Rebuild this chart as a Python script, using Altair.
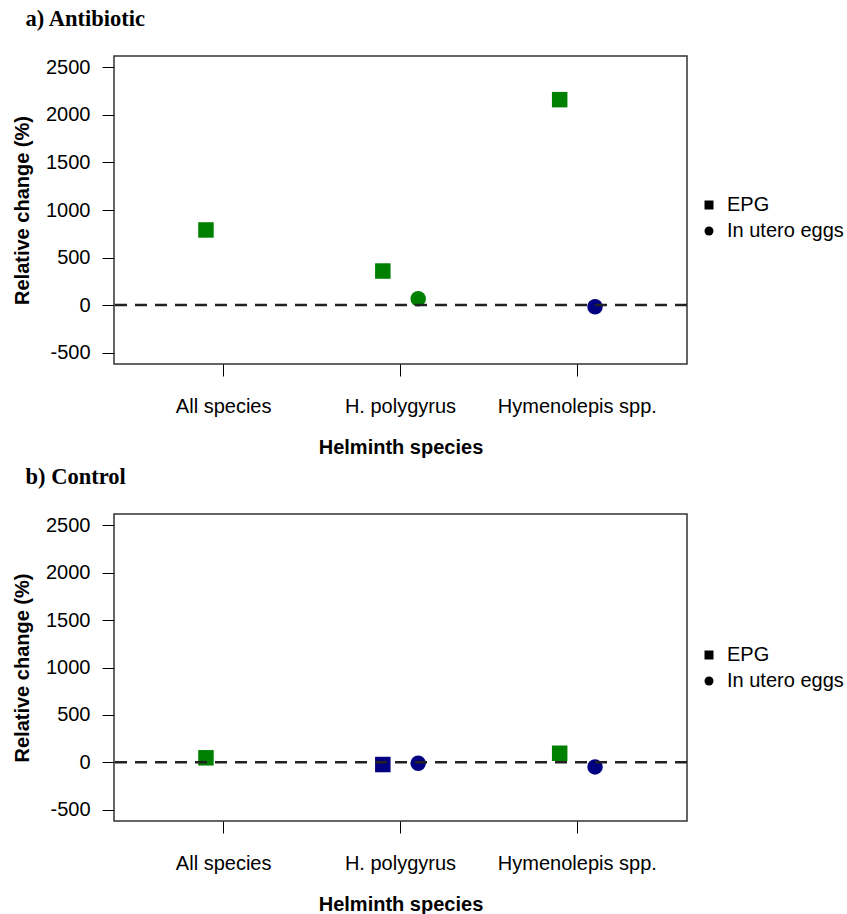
import altair as alt
import pandas as pd

species = ["All species", "H. polygyrus", "Hymenolepis spp."]
measures = ["EPG", "In utero eggs"]

row_species = ["All species", "H. polygyrus", "H. polygyrus", "Hymenolepis spp.", "Hymenolepis spp."]
row_measure = ["EPG", "EPG", "In utero eggs", "EPG", "In utero eggs"]

antibiotic_change = [790, 358, 66, 2161, -18]
antibiotic_signif = ["yes", "yes", "yes", "yes", "no"]

control_change = [47, -24, -10, 95, -49]
control_signif = ["yes", "no", "no", "yes", "no"]

y_ticks = [-500, 0, 500, 1000, 1500, 2000, 2500]
signif_levels = ["yes", "no"]
signif_colors = ["#008000", "#000080"]

FONT = "Liberation Sans"


def panel(change, signif, title, legend_y, height):
    df = pd.DataFrame({
        "species": row_species,
        "measure": row_measure,
        "change": change,
        "signif": signif,
    })
    y_enc = alt.Y(
        "change:Q",
        scale=alt.Scale(domain=[-620, 2620], nice=False, zero=False),
        axis=alt.Axis(values=y_ticks, labelExpr="'' + datum.value",
                      title="Relative change (%)", grid=False,
                      domain=False, tickSize=12, tickColor="black", labelPadding=12,
                      labelFontSize=20, labelFont=FONT, labelColor="black",
                      titleFont=FONT, titleFontSize=20, titleFontWeight="bold",
                      titleColor="black", titlePadding=13),
    )
    pts = alt.Chart(df).mark_point(filled=True, size=240, opacity=1).encode(
        x=alt.X("species:N",
                scale=alt.Scale(domain=species, paddingInner=0.8, paddingOuter=0.52),
                axis=alt.Axis(title="Helminth species", labelAngle=0, bandPosition=0.5,
                              domain=False, tickSize=12, tickColor="black",
                              labelPadding=20, labelFontSize=20, labelFont=FONT,
                              labelColor="black", titleFont=FONT, titleFontSize=20,
                              titleFontWeight="bold", titleColor="black",
                              titlePadding=21)),
        xOffset=alt.XOffset("measure:N",
                            scale=alt.Scale(type="point", domain=measures, padding=0)),
        y=y_enc,
        shape=alt.Shape("measure:N",
                        scale=alt.Scale(domain=measures, range=["square", "circle"]),
                        legend=alt.Legend(orient="none", legendX=585, legendY=legend_y, title=None,
                                          labelFontSize=20, labelFont=FONT, labelColor="black",
                                          symbolSize=81, symbolFillColor="black",
                                          symbolStrokeColor="black", symbolStrokeWidth=0,
                                          labelOffset=8, rowPadding=6, padding=0)),
        color=alt.Color("signif:N",
                        scale=alt.Scale(domain=signif_levels, range=signif_colors),
                        legend=None),
    )
    zero = alt.Chart(pd.DataFrame({"change": [0]})).mark_rule(
        strokeDash=[12, 8], strokeWidth=2.5, color="#222"
    ).encode(y=y_enc)
    return alt.layer(pts, zero).properties(
        width=573, height=height,
        title=alt.TitleParams(title, anchor="start", frame="bounds", font="Liberation Serif",
                              fontSize=22.5, fontWeight="bold", color="black",
                              baseline="bottom", offset=3, dx=13),
    )


top = panel(antibiotic_change, antibiotic_signif, "a) Antibiotic", 139, 308)
bottom = panel(control_change, control_signif, "b) Control", 131, 307)

chart = alt.vconcat(top, bottom, spacing=6).resolve_legend(shape="independent").properties(
    padding={"left": 11, "top": 6, "right": 0, "bottom": 0}
).configure_view(stroke="#333", strokeWidth=1.5)

chart.save("out.html", embed_options={"renderer": "svg", "actions": False})
